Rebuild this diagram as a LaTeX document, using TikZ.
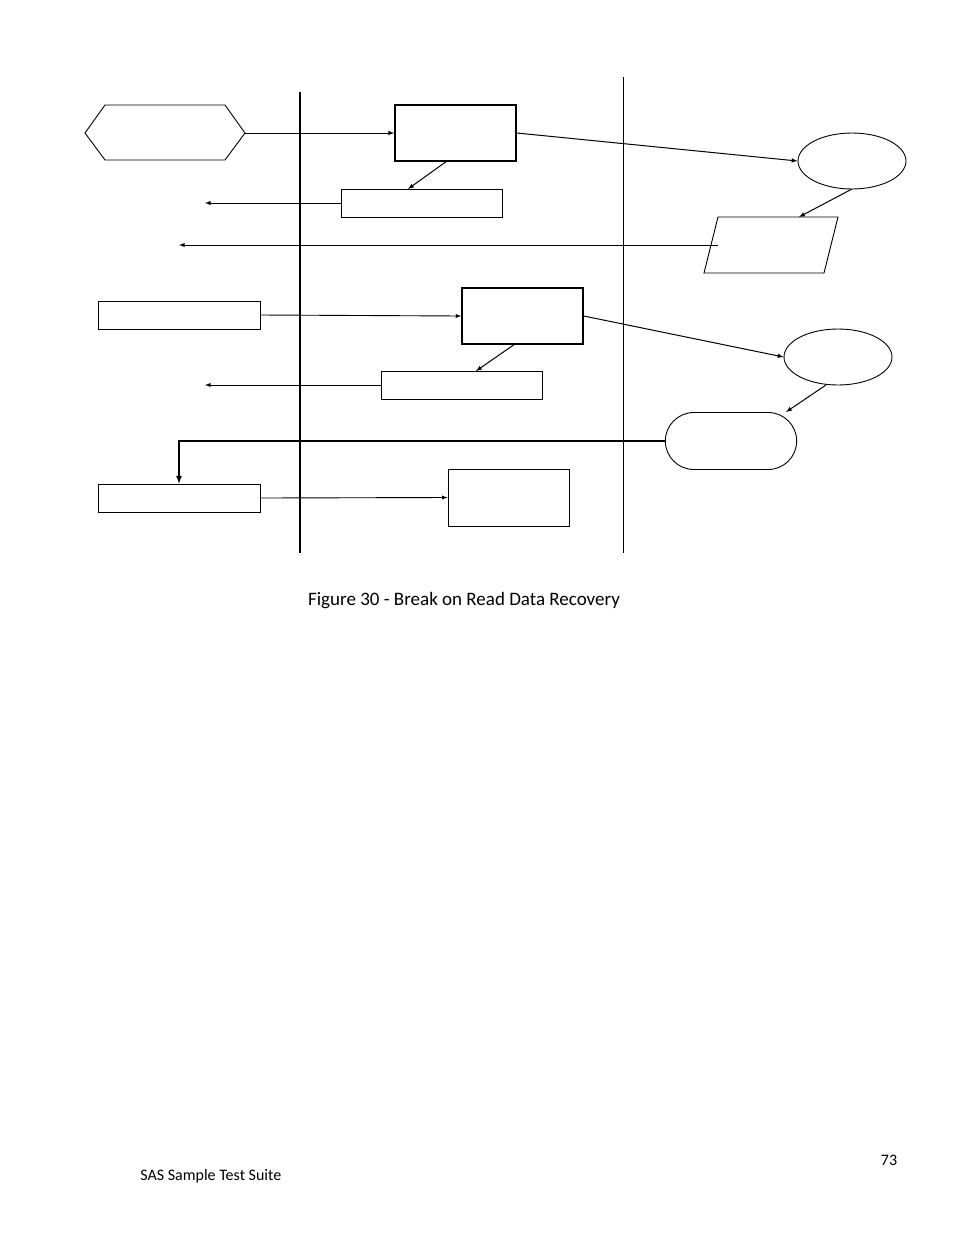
\documentclass[tikz,border=0pt]{standalone}
\usepackage{fontspec}
\setmainfont{Carlito}
\usetikzlibrary{shapes.geometric,shapes.misc}
\begin{document}
\begin{tikzpicture}[x=1pt,y=-1pt,>=latex,
    every path/.style={line width=0.9pt},
    box/.style={draw, rectangle, inner sep=0pt},
    bigbox/.style={box, line width=1.5pt, minimum width=121pt, minimum height=56pt},
    slim/.style={box, minimum width=161pt, minimum height=28pt},
    flow/.style={->, line width=1pt}]
    \useasboundingbox (0,0) rectangle (954,1235);

        % swim lane dividers
        \draw[line width=1.5pt] (300,92) -- (300,553);
        \draw (623,77) -- (623,553);

        % hexagon and parallelogram drawn directly
        \draw (85,133) -- (105,105) -- (225,105) -- (245,133) -- (225,160) -- (105,160) -- cycle;
        \coordinate (startR) at (245,133);
        \draw (718,217) -- (838,217) -- (824,273) -- (704,273) -- cycle;
        \coordinate (dataL) at (718,245);
        \coordinate (dataT) at (799,217);

        \node[bigbox, name=req1] at (455.5,133) {};
        \node[slim, name=note1] at (421.5,203) {};
        \node[draw, ellipse, minimum width=108pt, minimum height=56pt, name=dev1] at (852,161) {};

        \node[box, minimum width=162pt, minimum height=28pt, name=in2] at (179,315) {};
        \node[bigbox, name=req2] at (522.5,316) {};
        \node[slim, name=note2] at (461.5,385) {};
        \node[draw, ellipse, minimum width=108pt, minimum height=56pt, name=dev2] at (838,357) {};
        \node[draw, rounded rectangle, minimum width=138pt, minimum height=57pt, name=stat] at (731,441) {};

        \node[box, minimum width=162pt, minimum height=28pt, name=in3] at (179,498) {};
        \node[box, minimum width=121pt, minimum height=57pt, name=req3] at (508.5,497.5) {};

        \coordinate (out1) at (205,203);
        \coordinate (out2) at (179,245);
        \coordinate (out3) at (205,385);
        \coordinate (bend) at (179,441);

        \draw[flow] (startR) -- (req1.west);
        \draw[flow] (req1.east) -- (dev1.west);
        \draw[flow] (447,161) -- (408,189);
        \draw[->] (note1.west) -- (out1);
        \draw[flow] (852,189) -- (dataT);
        \draw[->] (dataL) -- (out2);
        \draw[->] (in2.east) -- (req2.west);
        \draw[flow] (req2.east) -- (dev2.west);
        \draw[flow] (515,344) -- (476,371);
        \draw[->] (note2.west) -- (out3);
        \draw[flow] (826,385) -- (786,412);
        \draw[flow, line width=1.6pt] (stat.west) -- (bend) -- (in3.north -| bend);
        \draw[->] (in3.east) -- (req3.west);

        \node[font=\fontsize{19pt}{22pt}\selectfont, name=caption] at (464,601) {Figure 30 - Break on Read Data Recovery};
        \node[font=\fontsize{16pt}{19pt}\selectfont, name=page] at (889,1160) {73};
        \node[font=\fontsize{16pt}{19pt}\selectfont, anchor=west, inner sep=0pt, name=footer] at (140,1176) {SAS Sample Test Suite};
    \end{tikzpicture}
\end{document}
